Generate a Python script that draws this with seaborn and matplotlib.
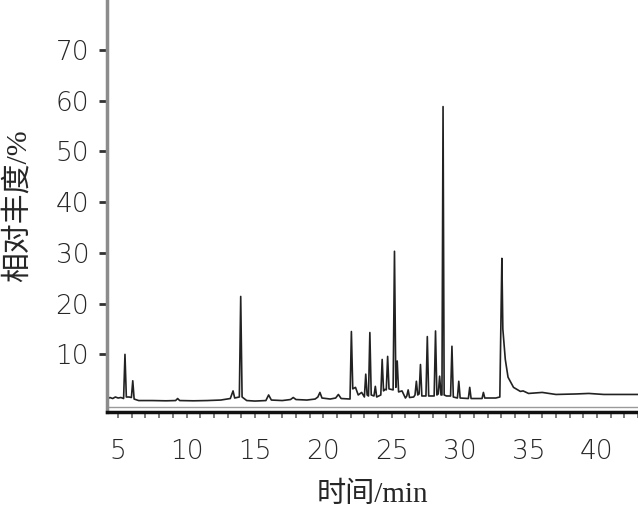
import pandas as pd
import seaborn as sns
import matplotlib.pyplot as plt
from matplotlib.ticker import MultipleLocator

# 色谱图数据 (时间/min, 相对丰度/%)
time_min = [
    4.2, 4.4, 4.6, 4.8, 5.0, 5.2, 5.4, 5.5, 5.6, 5.8, 5.97, 6.07, 6.17, 6.5,
    7.5, 8.5, 9.2, 9.35, 9.5, 10.5, 11.5, 12.5, 13.2, 13.4, 13.52, 13.86, 13.96, 14.06,
    14.4, 15.0, 15.8, 16.0, 16.2, 17.0, 17.6, 17.8, 18.0, 18.8, 19.4, 19.6, 19.75, 19.9,
    20.5, 20.9, 21.1, 21.3, 21.95, 22.05, 22.15, 22.35, 22.55, 22.8, 23.0, 23.1, 23.2,
    23.3, 23.4, 23.5, 23.7, 23.8, 23.9, 24.2, 24.3, 24.4, 24.5, 24.6, 24.7, 24.8,
    25.1, 25.2, 25.3, 25.4, 25.5, 25.75, 26.0, 26.1, 26.2, 26.3, 26.6, 26.7, 26.8,
    26.9, 27.0, 27.1, 27.2, 27.5, 27.6, 27.7, 28.1, 28.2, 28.3, 28.4, 28.5, 28.6,
    28.67, 28.75, 28.83, 29.0, 29.3, 29.4, 29.5, 29.8, 29.9, 30.0, 30.6, 30.7, 30.8,
    31.6, 31.7, 31.8, 32.6, 32.9, 33.0, 33.05, 33.12, 33.3, 33.5, 33.9, 34.4, 34.6,
    35.0, 36.0, 37.0, 38.5, 39.4, 40.5, 43.0,
]
abundance = [
    1.2, 1.5, 1.3, 1.6, 1.4, 1.5, 1.3, 10.0, 1.6, 1.6, 1.5, 4.8, 1.2, 0.9,
    0.9, 0.85, 0.9, 1.3, 0.9, 0.85, 0.9, 1.0, 1.3, 2.8, 1.4, 1.6, 21.4, 1.6,
    0.9, 0.8, 0.9, 2.0, 1.0, 0.9, 1.1, 1.5, 1.1, 1.0, 1.2, 1.6, 2.5, 1.4,
    1.2, 1.4, 2.1, 1.3, 1.2, 14.5, 3.2, 3.5, 2.0, 2.5, 1.6, 6.1, 2.0,
    1.8, 14.3, 2.0, 1.8, 3.7, 1.6, 2.0, 9.0, 2.8, 3.1, 3.0, 9.6, 3.2,
    3.0, 30.3, 3.5, 8.7, 2.6, 2.8, 1.4, 1.8, 3.0, 1.5, 1.6, 2.0, 4.7,
    2.0, 2.2, 8.0, 1.8, 1.8, 13.5, 1.8, 1.8, 14.6, 2.0, 2.2, 5.7, 2.0,
    2.0, 58.8, 2.0, 1.8, 1.8, 11.6, 1.6, 1.4, 4.7, 1.4, 1.3, 3.5, 1.3,
    1.3, 2.5, 1.4, 1.4, 1.6, 20.0, 28.9, 15.0, 9.0, 5.5, 3.5, 2.7, 2.8,
    2.3, 2.5, 2.1, 2.2, 2.3, 2.1, 2.1,
]

df = pd.DataFrame({'时间': time_min, '丰度': abundance})

sns.set_style('ticks')
plt.rcParams['font.family'] = ['Liberation Serif', 'Noto Sans CJK SC', 'DejaVu Sans']

fig = plt.figure(figsize=(6.38, 5.16), dpi=100)
ax = fig.add_axes([0.168, 0.2016, 0.832, 0.7984])

sns.lineplot(data=df, x='时间', y='丰度', ax=ax, color='#222222', linewidth=1.2,
             estimator=None, sort=False)
ax.axhline(-0.4, color='#9a9a9a', linewidth=1.0)

ax.set_xlim(4.2, 43.0)
ax.set_ylim(-1.35, 79.8)
ax.set_xticks([5, 10, 15, 20, 25, 30, 35, 40])
ax.xaxis.set_minor_locator(MultipleLocator(1))
ax.set_yticks([10, 20, 30, 40, 50, 60, 70])

for s in ['top', 'right']:
    ax.spines[s].set_visible(False)
ax.spines['left'].set_color('#8c8c8c')
ax.spines['left'].set_linewidth(2.5)
ax.spines['bottom'].set_color('#111111')
ax.spines['bottom'].set_linewidth(2.5)

ax.tick_params(axis='y', length=6, width=2, color='#333333', labelsize=19, pad=7,
               labelfontfamily='DejaVu Sans')
ax.tick_params(axis='x', which='both', length=4.5, width=1.2, color='#666666',
               labelsize=19, pad=15, labelfontfamily='DejaVu Sans')
for lab in ax.get_xticklabels() + ax.get_yticklabels():
    lab.set_fontweight('light')

ax.set_xlabel('时间/min', fontsize=21, labelpad=13)
ax.set_ylabel('相对丰度/%', fontsize=21.5, labelpad=17)

fig.savefig('out.png', dpi=100)
